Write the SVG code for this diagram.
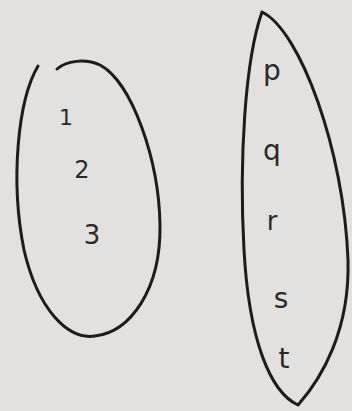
<svg xmlns="http://www.w3.org/2000/svg" width="352" height="411" viewBox="0 0 352 411">
<style>
.set{fill:none;stroke:#1c1c1c;stroke-width:3;stroke-linecap:round;stroke-linejoin:round}
.lbl{font-family:"DejaVu Sans","Liberation Sans",sans-serif;fill:#2a2a2a;text-anchor:middle}
</style>
<rect width="352" height="411" fill="#e3e1df"/>
<g id="setA">
<path class="set" d="M 38 66 C 18 100 10 180 24 250 C 38 310 68 340 95 336 C 130 332 161 290 160 225 C 159 160 132 82 100 65 C 85 58 66 61 57 69"/>
<text class="lbl" x="66" y="125" font-size="22">1</text>
<text class="lbl" x="82" y="178" font-size="24">2</text>
<text class="lbl" x="92" y="244" font-size="26">3</text>
</g>
<g id="setB">
<path class="set" d="M 262 12 C 300 30 344 150 348 260 C 350 330 322 378 298 405 C 270 392 249 340 244 250 C 239 160 245 60 262 12 Z"/>
<text class="lbl" x="272" y="80" font-size="28">p</text>
<text class="lbl" x="272" y="160" font-size="28">q</text>
<text class="lbl" x="272" y="230" font-size="26">r</text>
<text class="lbl" x="281" y="308" font-size="28">s</text>
<text class="lbl" x="284" y="368" font-size="28">t</text>
</g>
</svg>
